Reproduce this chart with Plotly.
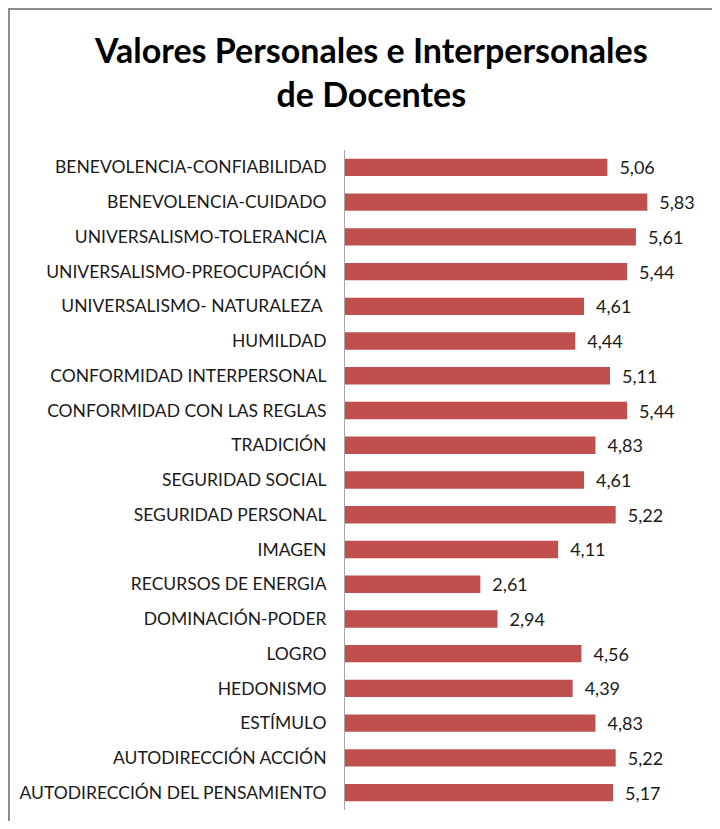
import plotly.graph_objects as go

# categories top to bottom
categorias = [
    "BENEVOLENCIA-CONFIABILIDAD",
    "BENEVOLENCIA-CUIDADO",
    "UNIVERSALISMO-TOLERANCIA",
    "UNIVERSALISMO-PREOCUPACIÓN",
    "UNIVERSALISMO- NATURALEZA ",
    "HUMILDAD",
    "CONFORMIDAD INTERPERSONAL",
    "CONFORMIDAD CON LAS REGLAS",
    "TRADICIÓN",
    "SEGURIDAD SOCIAL",
    "SEGURIDAD PERSONAL",
    "IMAGEN",
    "RECURSOS DE ENERGIA",
    "DOMINACIÓN-PODER",
    "LOGRO",
    "HEDONISMO",
    "ESTÍMULO",
    "AUTODIRECCIÓN ACCIÓN",
    "AUTODIRECCIÓN DEL PENSAMIENTO",
]
valores = [5.06, 5.83, 5.61, 5.44, 4.61, 4.44, 5.11, 5.44, 4.83, 4.61,
           5.22, 4.11, 2.61, 2.94, 4.56, 4.39, 4.83, 5.22, 5.17]

# page body has an 8px margin, so the figure is a bit smaller
W, H = 704, 813
ml, mr, mt, mb = 337, 4, 142, 11
FONT = "Lato"

fig = go.Figure(go.Bar(
    x=valores, y=categorias, orientation="h",
    marker=dict(color="#C0504D", line=dict(width=0)),
    texttemplate="\u2002%{x:.2f}", textposition="outside",
    constraintext="none",
    textfont=dict(size=18, color="#1a1a1a", family=FONT),
    cliponaxis=False,
))

# gray frame (left and top edges visible)
pw, ph = W - ml - mr, H - mt - mb
def px_x(p): return (p - ml) / pw
def px_y(p): return (H - mb - p) / ph

fig.add_shape(type="rect", xref="paper", yref="paper",
              x0=px_x(1), x1=px_x(760), y0=px_y(860), y1=px_y(1),
              line=dict(color="#8C8C8C", width=2))

fig.update_layout(
    width=W, height=H,
    margin=dict(l=ml, r=mr, t=mt, b=mb),
    paper_bgcolor="white", plot_bgcolor="white",
    separators=",.",
    font=dict(family=FONT, color="#000000"),
    title=dict(text="<b>Valores Personales e Interpersonales<br>de Docentes</b>",
               x=0.516, xanchor="center", y=0.932, yanchor="top",
               font=dict(size=34, family=FONT, color="#000000")),
    bargap=0.5,
    showlegend=False,
)
fig.update_xaxes(range=[0, 7], visible=False)
fig.update_yaxes(autorange="reversed", showline=True, linecolor="#A6A6A6", linewidth=1,
                 ticks="", ticklabelstandoff=14, showgrid=False,
                 tickfont=dict(size=17.5, color="#1a1a1a", family=FONT))

fig.write_html("out.html")
